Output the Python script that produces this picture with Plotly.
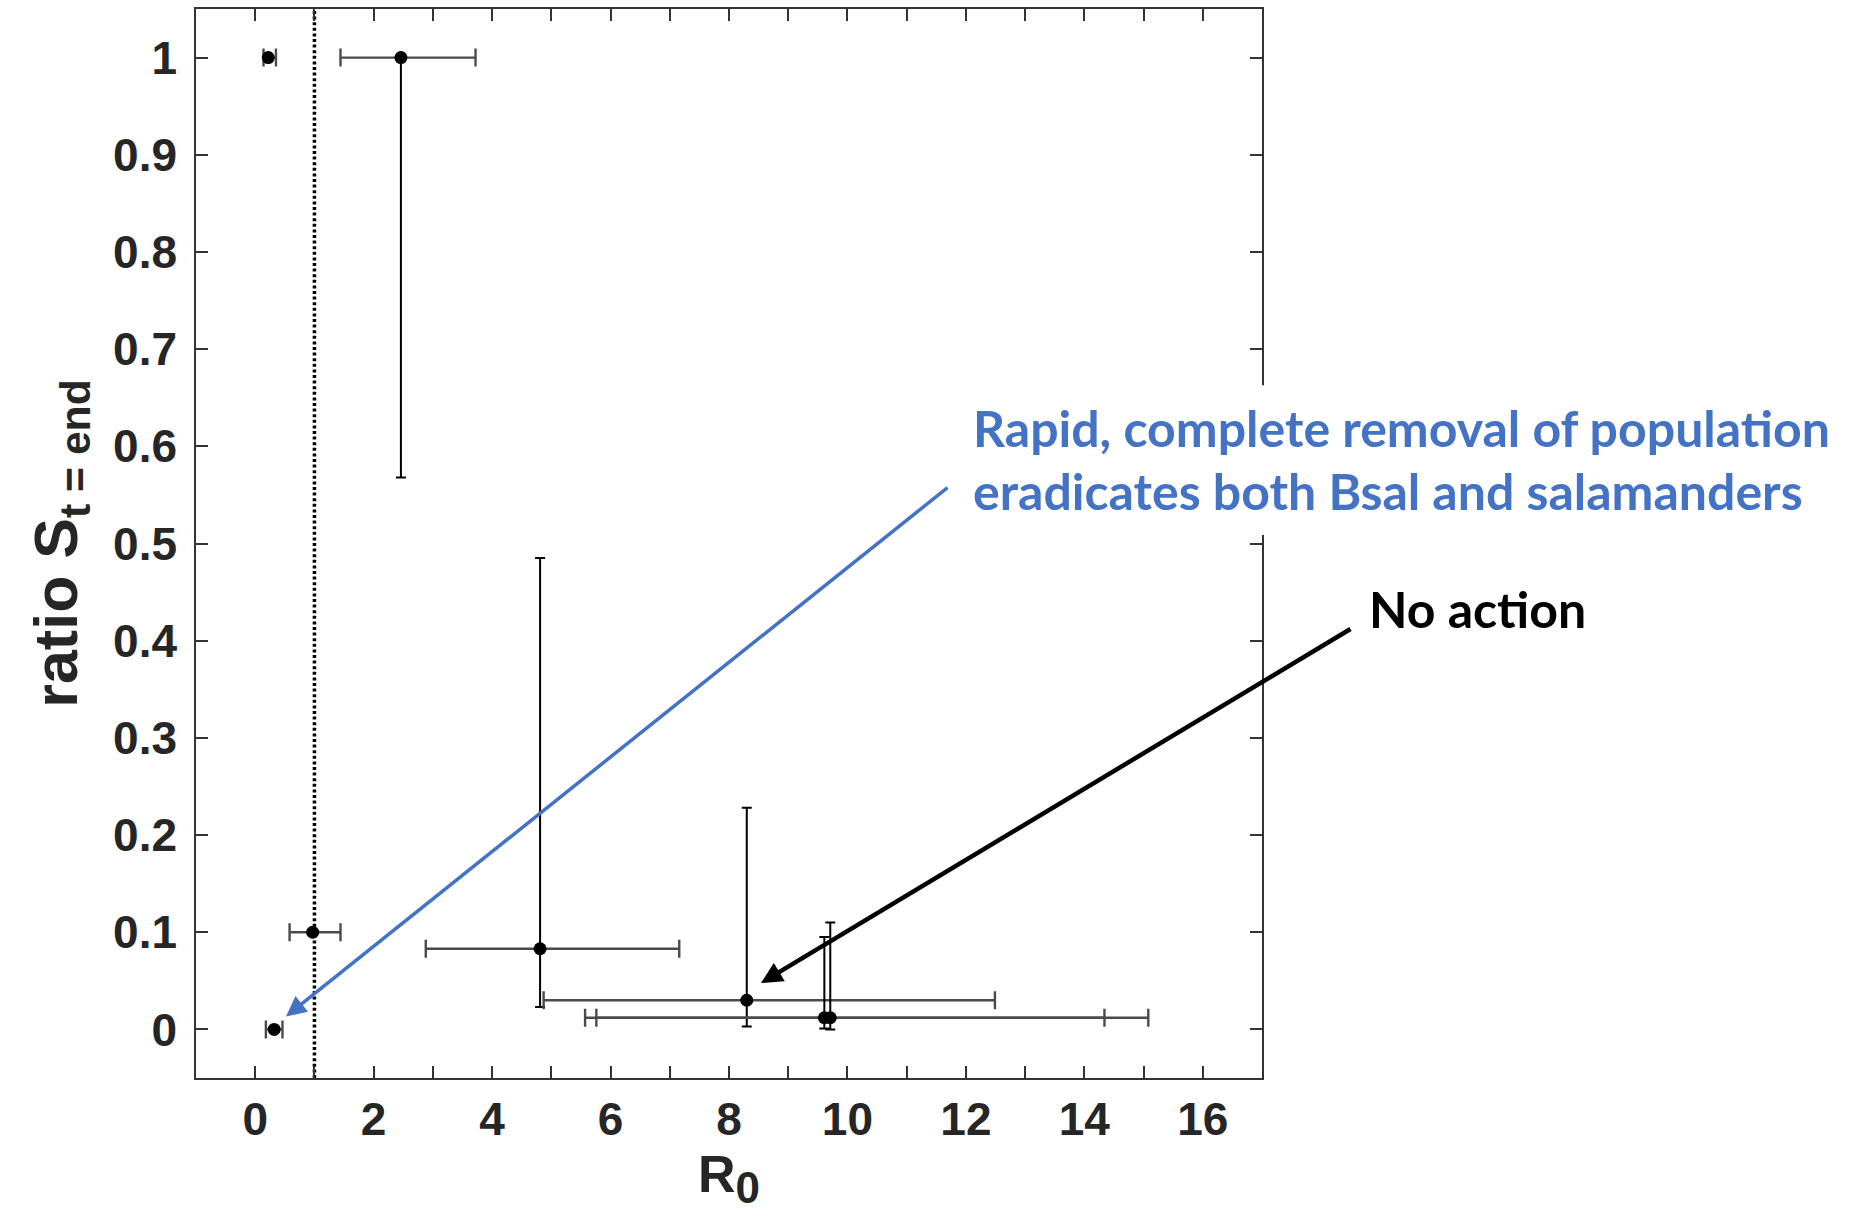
import plotly.graph_objects as go

# ---- data ----
R0 = [0.22, 2.46, 0.97, 0.32, 4.81, 8.30, 9.61, 9.71]
S_end = [1.0, 1.0, 0.10, 0.0, 0.083, 0.030, 0.012, 0.012]
R0_low = [0.14, 1.44, 0.58, 0.18, 2.88, 4.87, 5.57, 5.76]
R0_high = [0.35, 3.72, 1.44, 0.46, 7.16, 12.49, 14.34, 15.08]
S_low = [1.0, 0.568, 0.10, 0.0, 0.023, 0.003, 0.001, 0.0]
S_high = [1.0, 1.0, 0.10, 0.0, 0.485, 0.228, 0.095, 0.11]

threshold_R0 = 1.0
x_tick_vals = list(range(0, 17))
x_tick_text = [str(v) if v % 2 == 0 else "" for v in x_tick_vals]
y_tick_vals = [i / 10 for i in range(0, 11)]
y_tick_text = ["0", "0.1", "0.2", "0.3", "0.4", "0.5", "0.6", "0.7", "0.8", "0.9", "1"]

blue_text_1 = "Rapid, complete removal of population"
blue_text_2 = "eradicates both Bsal and salamanders"
black_text = "No action"

ex_plus = [h - x for h, x in zip(R0_high, R0)]
ex_minus = [x - l for l, x in zip(R0_low, R0)]
ey_plus = [h - y for h, y in zip(S_high, S_end)]
ey_minus = [y - l for l, y in zip(S_low, S_end)]

fig = go.Figure()

# dotted threshold line R0 = 1
fig.add_trace(go.Scatter(
    x=[threshold_R0, threshold_R0], y=[-0.05, 1.05], mode="lines",
    line=dict(color="black", width=3.5, dash="3px,2.6px"), hoverinfo="skip", showlegend=False))

fig.add_trace(go.Scatter(
    x=R0, y=S_end, mode="markers",
    marker=dict(color="black", size=13),
    error_x=dict(type="data", symmetric=False, array=ex_plus, arrayminus=ex_minus,
                 color="#4a4a4a", thickness=2.4, width=9),
    error_y=dict(type="data", symmetric=False, array=ey_plus, arrayminus=ey_minus,
                 color="black", thickness=2, width=5),
    showlegend=False))

axis_common = dict(showline=True, linecolor="#333333", linewidth=1.5, mirror="ticks",
                   ticks="inside", ticklen=12, tickwidth=1.5, tickcolor="#333333",
                   showgrid=False, zeroline=False,
                   tickfont=dict(family="Liberation Sans, Arial", size=46, color="#262626", weight="bold"))

fig.update_xaxes(range=[-1, 17], tickvals=x_tick_vals, ticktext=x_tick_text,
                 title=dict(text="R<sub><span style='font-size:44px'>0</span></sub>", standoff=12,
                            font=dict(family="Liberation Sans, Arial", size=52, color="#262626", weight="bold")),
                 **axis_common)
fig.update_yaxes(range=[-0.05, 1.05], tickvals=y_tick_vals, ticktext=y_tick_text,
                 ticklabelstandoff=8,
                 title=dict(text="ratio S<sub>t = end</sub>", standoff=16,
                            font=dict(family="Liberation Sans, Arial", size=61, color="#262626", weight="bold")),
                 **axis_common)

# white box behind the blue text (covers part of the right axis)
fig.add_shape(type="rect", xref="paper", yref="paper", x0=0.706, x1=1.56, y0=0.508, y1=0.648,
              fillcolor="white", line=dict(width=0), layer="above")

txt_font_blue = dict(family="Lato", size=50, color="#4472C4", weight="bold")
fig.add_annotation(xref="paper", yref="paper", x=0.727, y=0.608, xanchor="left", yanchor="middle",
                   text=blue_text_1, showarrow=False, font=txt_font_blue)
fig.add_annotation(xref="paper", yref="paper", x=0.727, y=0.549, xanchor="left", yanchor="middle",
                   text=blue_text_2, showarrow=False, font=txt_font_blue)
fig.add_annotation(xref="paper", yref="paper", x=1.0985, y=0.4387, xanchor="left", yanchor="middle",
                   text=black_text, showarrow=False,
                   font=dict(family="Lato", size=50, color="black", weight="bold"))

# arrows
fig.add_annotation(x=0.52, y=0.0134, xref="x", yref="y", ax=663, ay=-530, text="",
                   showarrow=True, arrowhead=2, arrowsize=1.15, arrowwidth=3.5, arrowcolor="#4472C4",
                   standoff=0)
fig.add_annotation(x=8.54, y=0.0477, xref="x", yref="y", ax=591, ay=-355, text="",
                   showarrow=True, arrowhead=2, arrowsize=0.95, arrowwidth=4.5, arrowcolor="black",
                   standoff=0)

fig.update_layout(width=1870, height=1232, autosize=False,
                  margin=dict(l=196, r=608, t=9, b=154, autoexpand=False),
                  paper_bgcolor="white", plot_bgcolor="white", showlegend=False)

fig.write_html("out.html")
